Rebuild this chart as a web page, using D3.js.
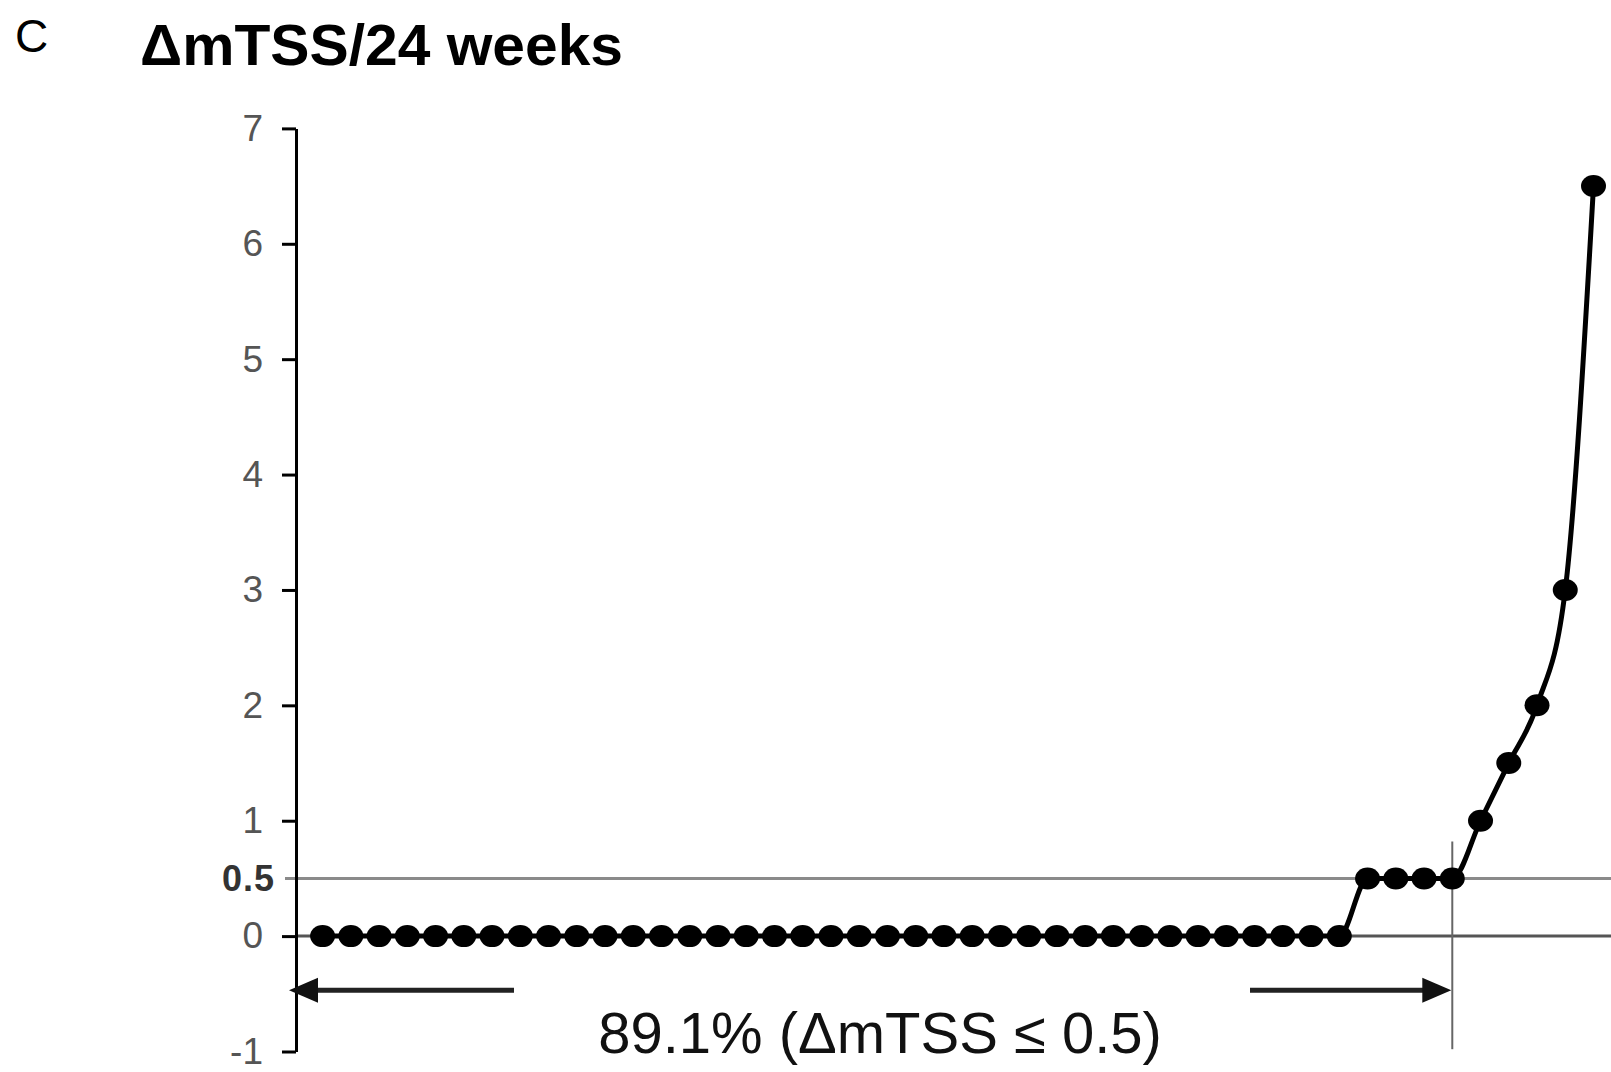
<!DOCTYPE html>
<html lang="en">
<head>
    <meta charset="UTF-8">
    <title>dmTSS / 24 weeks</title>
    <style>
        body { margin: 0; background: #fff; }
        svg { display: block; }
    </style>
</head>
<body>
    <script src="https://cdn.jsdelivr.net/npm/d3@7"></script>
    <script>
        const svg_w = 1611;
        const svg_h = 1072;

        // 46 patients, sorted by change in mTSS over 24 weeks
        const patients = d3.range(1, 47);
        const delta_mtss = [
            0, 0, 0, 0, 0, 0, 0, 0, 0, 0,
            0, 0, 0, 0, 0, 0, 0, 0, 0, 0,
            0, 0, 0, 0, 0, 0, 0, 0, 0, 0,
            0, 0, 0, 0, 0, 0, 0,
            0.5, 0.5, 0.5, 0.5,
            1, 1.5, 2, 3, 6.5
        ];
        const y_ticks = [-1, 0, 1, 2, 3, 4, 5, 6, 7];
        const cutoff = 0.5;
        const cutoff_patient = 41;
        const share_label = '89.1% (ΔmTSS ≤ 0.5)';

        const font = 'Arial, "Liberation Sans", sans-serif';

        const x = d3.scaleLinear().domain([1, 46]).range([322.6, 1593.5]);
        const y = d3.scaleLinear().domain([-1, 7]).range([1051.5, 128.4]);

        const svg = d3.select('body')
            .append('svg')
            .attr('width', svg_w)
            .attr('height', svg_h);

        // panel letter and title
        svg.append('text')
            .attr('x', 15).attr('y', 52)
            .attr('font-family', font)
            .attr('font-size', '46px')
            .text('C');

        svg.append('text')
            .attr('x', 140).attr('y', 65)
            .attr('font-family', font)
            .attr('font-size', '57px')
            .attr('font-weight', 'bold')
            .attr('textLength', 483)
            .attr('lengthAdjust', 'spacingAndGlyphs')
            .text('ΔmTSS/24 weeks');

        // reference lines at 0.5 and 0
        svg.append('line')
            .attr('x1', 285).attr('x2', svg_w)
            .attr('y1', y(cutoff)).attr('y2', y(cutoff))
            .attr('stroke', '#8a8a8a')
            .attr('stroke-width', 3);

        svg.append('line')
            .attr('x1', 296).attr('x2', svg_w)
            .attr('y1', y(0)).attr('y2', y(0))
            .attr('stroke', '#555')
            .attr('stroke-width', 3);

        // y axis
        const y_axis = svg.append('g')
            .attr('transform', 'translate(296,0)')
            .call(d3.axisLeft(y).tickValues(y_ticks).tickFormat(d => String(d))
                .tickSize(14).tickSizeOuter(0).tickPadding(19));

        y_axis.select('.domain').attr('stroke', '#000').attr('stroke-width', 3);
        y_axis.selectAll('.tick line').attr('stroke', '#000').attr('stroke-width', 3);
        y_axis.selectAll('.tick text')
            .attr('font-family', font)
            .attr('font-size', '37px')
            .attr('fill', '#555');

        svg.append('text')
            .attr('x', 275).attr('y', y(cutoff))
            .attr('dy', '0.36em')
            .attr('text-anchor', 'end')
            .attr('font-family', font)
            .attr('font-size', '36px')
            .attr('font-weight', 'bold')
            .attr('letter-spacing', '1px')
            .attr('fill', '#333')
            .text('0.5');

        // vertical cut-off marker
        svg.append('line')
            .attr('x1', x(cutoff_patient)).attr('x2', x(cutoff_patient))
            .attr('y1', y(0.82)).attr('y2', y(-0.98))
            .attr('stroke', '#666')
            .attr('stroke-width', 2);

        // arrows: shaft plus triangular head
        const arrow_y = y(-0.47);
        const arrows = [
            { from: 514, to: 289 },
            { from: 1250, to: x(cutoff_patient) - 1 }
        ];

        svg.selectAll('line.arrow')
            .data(arrows)
            .enter()
            .append('line')
            .attr('class', 'arrow')
            .attr('x1', d => d.from)
            .attr('x2', d => d.to + Math.sign(d.from - d.to) * 20)
            .attr('y1', arrow_y).attr('y2', arrow_y)
            .attr('stroke', '#222').attr('stroke-width', 5);

        svg.selectAll('path.head')
            .data(arrows)
            .enter()
            .append('path')
            .attr('class', 'head')
            .attr('d', d => {
                const s = Math.sign(d.from - d.to);
                return `M${d.to},${arrow_y} L${d.to + s * 29},${arrow_y - 12.5} L${d.to + s * 29},${arrow_y + 12.5} Z`;
            })
            .attr('fill', '#111');

        svg.append('text')
            .attr('x', 880).attr('y', 1053)
            .attr('text-anchor', 'middle')
            .attr('font-family', font)
            .attr('font-size', '58px')
            .attr('fill', '#111')
            .text(share_label);

        // data line and points
        const line = d3.line()
            .x((d, i) => x(patients[i]))
            .y(d => y(d))
            .curve(d3.curveMonotoneX);

        svg.append('path')
            .datum(delta_mtss)
            .attr('d', line)
            .attr('fill', 'none')
            .attr('stroke', '#000')
            .attr('stroke-width', 5);

        svg.selectAll('ellipse.pt')
            .data(delta_mtss)
            .enter()
            .append('ellipse')
            .attr('class', 'pt')
            .attr('cx', (d, i) => x(patients[i]))
            .attr('cy', d => y(d))
            .attr('rx', 12.5)
            .attr('ry', 11)
            .attr('fill', '#000');
    </script>
</body>
</html>
